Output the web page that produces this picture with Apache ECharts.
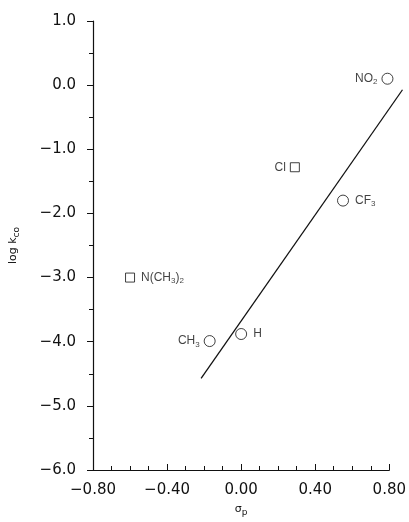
<!DOCTYPE html>
<html>
<head>
<meta charset="utf-8">
<script src="https://cdn.jsdelivr.net/npm/echarts@6/dist/echarts.min.js"></script>
<style>
html, body { margin: 0; padding: 0; background: #fff; }
#main { width: 409px; height: 522px; }
</style>
</head>
<body>
<div id="main"></div>
<script>
// substituent constants and measured rate constants
var circleNames = ['NO2', 'CF3', 'H', 'CH3'];
var circleSigma = [0.79, 0.55, 0.00, -0.17];
var circleLogK = [0.10, -1.80, -3.88, -3.99];
var circleLabels = ['{t|NO}{s|2}', '{t|CF}{s|3}', '{t|H}', '{t|CH}{s|3}'];
var circlePos = ['left', 'right', 'right', 'left'];

var squareNames = ['Cl', 'N(CH3)2'];
var squareSigma = [0.29, -0.60];
var squareLogK = [-1.28, -3.00];
var squareLabels = ['{t|Cl}', '{t|N(CH}{s|3}{t|)}{s|2}'];
var squarePos = ['left', 'right'];

// fitted line end points (runs a little past the last tick)
var fitSigma = [-0.21, 0.85];
var fitLogK = [-4.51, -0.06];

var myChart = echarts.init(document.getElementById('main'));

var labelRich = {
    t: { fontFamily: 'Liberation Sans', fontSize: 12, color: '#111' },
    s: { fontFamily: 'Liberation Sans', fontSize: 8, color: '#111', padding: [7, 0, 0, 0] }
};

function makePoints(names, xs, ys, labels, pos) {
    return names.map(function (n, i) {
        return {
            name: n,
            value: [xs[i], ys[i]],
            label: {
                show: true,
                position: pos[i],
                distance: pos[i] == 'left' ? 4 : 6,
                formatter: labels[i],
                rich: labelRich
            }
        };
    });
}

function fmt(v, d) {
    return v < 0 ? '\u2212' + Math.abs(v).toFixed(d) : v.toFixed(d);
}

var tickFont = { fontFamily: 'DejaVu Sans', fontSize: 15, color: '#111' };
var nameRich = {
    a: { fontFamily: 'DejaVu Sans', fontSize: 11, color: '#111' },
    s: { fontFamily: 'DejaVu Sans', fontSize: 9, color: '#111', padding: [6, 0, 0, 0] }
};

option = {
    animation: false,
    grid: [
        { left: 89, right: 16, top: 21, bottom: 47 },
        // same scale, wider box so the fit line can run past 0.80
        { left: 89, right: 6.5, top: 21, bottom: 47 }
    ],
    xAxis: [
        {
            type: 'value',
            gridIndex: 0,
            min: -0.8,
            max: 0.8,
            interval: 0.4,
            name: '{a|\u03c3}{s|p}',
            nameLocation: 'middle',
            nameGap: 32,
            nameTextStyle: { rich: nameRich },
            axisLine: { onZero: false, lineStyle: { color: '#111', width: 1.2 } },
            axisTick: { inside: true, length: 6, lineStyle: { color: '#111' } },
            minorTick: { show: true, splitNumber: 4, length: 4, lineStyle: { color: '#111' } },
            axisLabel: Object.assign({ margin: 13, formatter: function (v) { return fmt(v, 2); } }, tickFont),
            splitLine: { show: false }
        },
        {
            type: 'value',
            gridIndex: 1,
            min: -0.8,
            max: 0.85,
            show: false
        }
    ],
    yAxis: [
        {
            type: 'value',
            gridIndex: 0,
            min: -6,
            max: 1,
            interval: 1,
            name: '{a|log k}{s|co}',
            nameLocation: 'middle',
            nameRotate: 90,
            nameGap: 72,
            nameTextStyle: { rich: nameRich },
            axisLine: { onZero: false, lineStyle: { color: '#111', width: 1.2 } },
            axisTick: { inside: false, length: 6, lineStyle: { color: '#111' } },
            minorTick: { show: true, splitNumber: 2, length: 4, lineStyle: { color: '#111' } },
            axisLabel: Object.assign({ margin: 17, formatter: function (v) { return fmt(v, 1); } }, tickFont),
            splitLine: { show: false }
        },
        {
            type: 'value',
            gridIndex: 1,
            min: -6,
            max: 1,
            show: false
        }
    ],
    series: [
        {
            type: 'line',
            xAxisIndex: 1,
            yAxisIndex: 1,
            data: fitSigma.map(function (x, i) { return [x, fitLogK[i]]; }),
            showSymbol: false,
            lineStyle: { color: '#111', width: 1.3 },
            silent: true
        },
        {
            type: 'scatter',
            symbol: 'circle',
            symbolSize: 11,
            itemStyle: { color: '#fff', borderColor: '#111', borderWidth: 1 },
            data: makePoints(circleNames, circleSigma, circleLogK, circleLabels, circlePos)
        },
        {
            type: 'scatter',
            symbol: 'rect',
            symbolSize: 9,
            itemStyle: { color: '#fff', borderColor: '#111', borderWidth: 1 },
            data: makePoints(squareNames, squareSigma, squareLogK, squareLabels, squarePos)
        }
    ]
};

myChart.setOption(option);
</script>
</body>
</html>
